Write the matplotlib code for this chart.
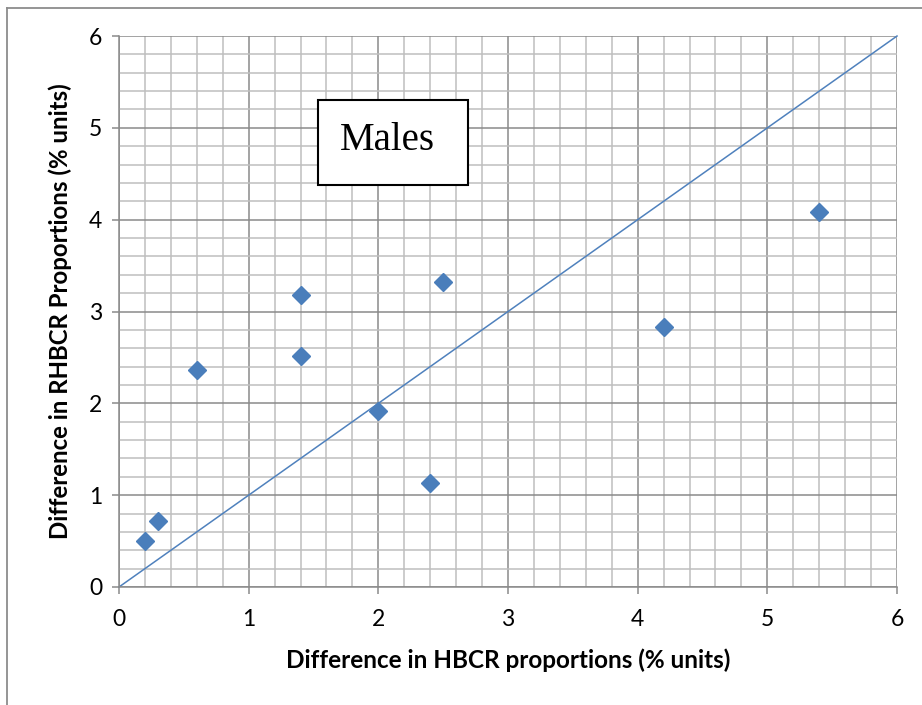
import numpy as np
import matplotlib.pyplot as plt
from matplotlib.patches import Rectangle
from matplotlib.ticker import MultipleLocator

# data
hbcr_diff  = [0.2, 0.3, 0.6, 1.4, 1.4, 2.0, 2.4, 2.5, 4.2, 5.4]
rhbcr_diff = [0.5, 0.72, 2.36, 3.18, 2.51, 1.92, 1.13, 3.32, 2.83, 4.08]
ref_line   = [0, 6]
label_txt  = 'Males'

plt.rcParams['font.family'] = ['Lato', 'DejaVu Sans']

fig = plt.figure(figsize=(9.22, 7.05), dpi=100)
ax1 = fig.add_axes([0.1291, 0.1674, 0.8438, 0.7815])

# outer chart border (only top and left visible)
fig.add_artist(plt.Line2D([7/922, 1.0], [1-8/705, 1-8/705], transform=fig.transFigure,
                          color='#8c8c8c', lw=1.3))
fig.add_artist(plt.Line2D([7/922, 7/922], [0.0, 1-8/705], transform=fig.transFigure,
                          color='#8c8c8c', lw=1.3))

ax1.set_xlim(0, 6)
ax1.set_ylim(0, 6)
ax1.xaxis.set_major_locator(MultipleLocator(1))
ax1.yaxis.set_major_locator(MultipleLocator(1))
ax1.xaxis.set_minor_locator(MultipleLocator(0.2))
ax1.yaxis.set_minor_locator(MultipleLocator(0.2))
ax1.grid(which='minor', color='#bebebe', lw=1.1, zorder=0)
ax1.grid(which='major', color='#8a8a8a', lw=1.1, zorder=0)
ax1.set_axisbelow(True)
for s in ['top', 'right']:
  ax1.spines[s].set_visible(False)
for s in ['left', 'bottom']:
  ax1.spines[s].set_color('#8a8a8a')
  ax1.spines[s].set_linewidth(1.1)

ax1.tick_params(which='major', length=5, color='#8a8a8a', width=1.1, labelsize=16.5, pad=7)
ax1.tick_params(axis='x', which='major', pad=11)
ax1.tick_params(which='minor', length=0)

ax1.plot(ref_line, ref_line, '-', color='#4f81bd', lw=1.1, zorder=2, clip_on=False)
ax1.plot(hbcr_diff, rhbcr_diff, 'D', color='#4a7ebb', markersize=9.5,
         markeredgecolor='#4a7ebb', zorder=3, linestyle='none')

ax1.set_xlabel('Difference in HBCR proportions (% units)', fontsize=17.5, fontweight='bold', labelpad=13)
ax1.set_ylabel('Difference in RHBCR Proportions (% units)', fontsize=17.3, fontweight='bold', labelpad=12)

# "Males" text box
ax1.add_patch(Rectangle((0.256, 0.7296), 0.193, 0.1544, transform=ax1.transAxes,
                        facecolor='white', edgecolor='black', lw=1.5, zorder=4))
ax1.text(0.345, 0.81, label_txt, transform=ax1.transAxes, ha='center', va='center',
         fontsize=28, family='Liberation Serif', zorder=5)

fig.savefig('out.png', dpi=100)
